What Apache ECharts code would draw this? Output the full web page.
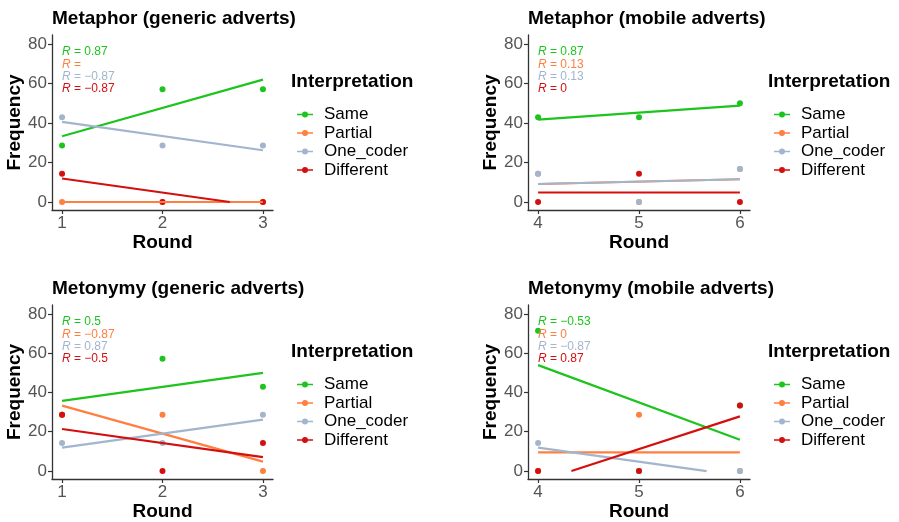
<!DOCTYPE html>
<html>
<head>
<meta charset="utf-8">
<script src="https://cdn.jsdelivr.net/npm/echarts@6/dist/echarts.min.js"></script>
<style>
  html, body { margin: 0; padding: 0; background: #fff; }
  #main { width: 899px; height: 522px; }
</style>
</head>
<body>
<div id="main"></div>
<script>
// data
var categories = ['Same', 'Partial', 'One_coder', 'Different'];
var colors = ['#1ec41e', '#ff7f40', '#a2b5cd', '#d40f0f'];
var panelTitles = ['Metaphor (generic adverts)', 'Metaphor (mobile adverts)',
                   'Metonymy (generic adverts)', 'Metonymy (mobile adverts)'];
var roundsGeneric = [1, 2, 3];
var roundsMobile = [4, 5, 6];
var yTicks = [0, 20, 40, 60, 80];

// frequencies per category (Same, Partial, One_coder, Different)
var metaphorGeneric = [[28.6, 57.1, 57.1], [0, 0, 0], [42.9, 28.6, 28.6], [14.3, 0, 0]];
var metaphorMobile  = [[42.9, 42.9, 50.0], [14.3, 0, 16.7], [14.3, 0, 16.7], [0, 14.3, 0]];
var metonymyGeneric = [[28.6, 57.1, 42.9], [28.6, 28.6, 0], [14.3, 14.3, 28.6], [28.6, 0, 14.3]];
var metonymyMobile  = [[71.4, 0, 33.3], [0, 28.6, 0], [14.3, 0, 0], [0, 0, 33.3]];

// fitted line end points (clipped at 0 as in the figure)
var fitMetaphorGeneric = [[[1, 33.3], [3, 61.9]], [[1, 0], [3, 0]], [[1, 40.5], [3, 26.2]], [[1, 11.9], [2.67, 0]]];
var fitMetaphorMobile  = [[[4, 41.7], [6, 48.8]], [[4, 9.1], [6, 11.5]], [[4, 9.1], [6, 11.5]], [[4, 4.8], [6, 4.8]]];
var fitMetonymyGeneric = [[[1, 35.7], [3, 50.0]], [[1, 33.3], [3, 4.8]], [[1, 11.9], [3, 26.2]], [[1, 21.4], [3, 7.1]]];
var fitMetonymyMobile  = [[[4, 53.9], [6, 15.9]], [[4, 9.5], [6, 9.5]], [[4, 11.9], [5.67, 0]], [[4.33, 0], [6, 27.8]]];

// correlation labels
var rMetaphorGeneric = ['0.87', '', '\u22120.87', '\u22120.87'];
var rMetaphorMobile  = ['0.87', '0.13', '0.13', '0'];
var rMetonymyGeneric = ['0.5', '\u22120.87', '0.87', '\u22120.5'];
var rMetonymyMobile  = ['\u22120.53', '0', '\u22120.87', '0.87'];

var panels = [
  {rounds: roundsGeneric, vals: metaphorGeneric, fit: fitMetaphorGeneric, r: rMetaphorGeneric},
  {rounds: roundsMobile, vals: metaphorMobile, fit: fitMetaphorMobile, r: rMetaphorMobile},
  {rounds: roundsGeneric, vals: metonymyGeneric, fit: fitMetonymyGeneric, r: rMetonymyGeneric},
  {rounds: roundsMobile, vals: metonymyMobile, fit: fitMetonymyMobile, r: rMetonymyMobile}
];

var FONT = '"Liberation Sans", Arial, sans-serif';
var gridBox = [
  {left: 52, top: 35, width: 221, height: 175},
  {left: 528, top: 35, width: 222, height: 175},
  {left: 52, top: 305, width: 221, height: 175},
  {left: 528, top: 305, width: 222, height: 175}
];
var legendIcon = 'path://M0,4.3 L16,4.3 L16,5.7 L0,5.7 Z M5,5 A3,3 0 1,1 11,5 A3,3 0 1,1 5,5 Z';

var grids = [], xAxes = [], yAxes = [], series = [], titles = [], legends = [], graphics = [];

panels.forEach(function (p, i) {
  var g = gridBox[i];
  grids.push({left: g.left, top: g.top, width: g.width, height: g.height});
  var r0 = p.rounds[0], r1 = p.rounds[p.rounds.length - 1];
  var axisLine = {show: true, onZero: false, lineStyle: {color: '#333', width: 1.3}};
  xAxes.push({
    type: 'value', gridIndex: i, min: r0 - 0.1, max: r1 + 0.1,
    name: 'Round', nameLocation: 'middle', nameGap: 23,
    nameTextStyle: {fontFamily: FONT, fontSize: 19, fontWeight: 'bold', color: '#000'},
    axisLine: axisLine,
    axisTick: {show: true, length: 4, lineStyle: {color: '#333', width: 1.2}, customValues: p.rounds},
    axisLabel: {fontFamily: FONT, fontSize: 17, color: '#555', margin: 5, customValues: p.rounds},
    splitLine: {show: false}
  });
  yAxes.push({
    type: 'value', gridIndex: i, min: -4.05, max: 84.5,
    name: 'Frequency', nameLocation: 'middle', nameGap: 28,
    nameTextStyle: {fontFamily: FONT, fontSize: 19, fontWeight: 'bold', color: '#000'},
    axisLine: axisLine,
    axisTick: {show: true, length: 4, lineStyle: {color: '#333', width: 1.2}, customValues: yTicks},
    axisLabel: {fontFamily: FONT, fontSize: 17, color: '#555', margin: 5, customValues: yTicks},
    splitLine: {show: false}
  });
  titles.push({
    text: panelTitles[i], left: g.left, top: g.top - 26, padding: 0,
    textStyle: {fontFamily: FONT, fontSize: 19, fontWeight: 'bold', color: '#000'}
  });

  categories.forEach(function (c, k) {
    series.push({
      name: c, type: 'scatter', xAxisIndex: i, yAxisIndex: i, z: 2,
      symbolSize: 6, itemStyle: {color: colors[k], opacity: 1},
      data: p.rounds.map(function (x, j) { return [x, p.vals[k][j]]; })
    });
  });
  categories.forEach(function (c, k) {
    series.push({
      name: c, type: 'line', xAxisIndex: i, yAxisIndex: i, z: 3,
      symbol: 'none', itemStyle: {color: colors[k]},
      lineStyle: {color: colors[k], width: 2.2},
      data: p.fit[k]
    });
  });

  // legend block to the right of each panel
  var lx = g.left + g.width + 18;
  graphics.push({
    type: 'text', left: lx, top: g.top + 37,
    style: {text: 'Interpretation', fontFamily: FONT, fontSize: 19, fontWeight: 'bold', fill: '#000'}
  });
  legends.push({
    orient: 'vertical', left: lx + 1, top: g.top + 66,
    itemWidth: 16, itemHeight: 6, itemGap: 1.5,
    selectedMode: false,
    textStyle: {fontFamily: FONT, fontSize: 17, color: '#000', lineHeight: 17, padding: [0, 0, 0, 6]},
    data: categories.map(function (c) { return {name: c, icon: legendIcon}; })
  });

  // correlation labels
  categories.forEach(function (c, k) {
    graphics.push({
      type: 'text', left: g.left + 10, top: g.top + 11 + k * 12.3, z: 10,
      style: {
        text: '{i|R} = ' + p.r[k], fontFamily: FONT, fontSize: 12, fill: colors[k],
        rich: {i: {fontStyle: 'italic', fontFamily: FONT, fontSize: 12, fill: colors[k]}}
      }
    });
  });
});

var chart = echarts.init(document.getElementById('main'), null, {renderer: 'canvas'});
chart.setOption({
  animation: false,
  backgroundColor: '#fff',
  title: titles,
  grid: grids,
  xAxis: xAxes,
  yAxis: yAxes,
  legend: legends,
  series: series,
  graphic: graphics
});
</script>
</body>
</html>
